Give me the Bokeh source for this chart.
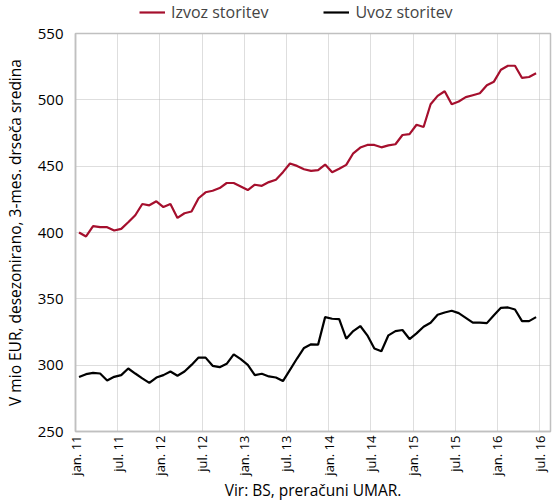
from bokeh.plotting import figure
from bokeh.layouts import column
from bokeh.models import Legend, LegendItem, FixedTicker, Range1d
from bokeh.embed import file_html
from bokeh.resources import INLINE

# monthly data, jan.2011 .. jun.2016 (index 0 = jan.11)
izvoz = [400.0, 397, 404.8, 404, 404, 401.5, 402.7, 407.7, 413, 421.5, 420.5, 423.5,
         419.2, 421.5, 411, 414.5, 415.8, 425.8, 430.3, 431.5, 433.5, 437.3, 437.3, 434.7,
         432, 436, 435.2, 438, 439.8, 445.5, 452, 450.2, 447.7, 446.5, 447, 451.2,
         445.5, 448, 451, 459.7, 464, 466, 466, 464.2, 465.7, 466.5, 473.5, 474.2,
         481.2, 479.5, 496.7, 503, 506.5, 496.7, 498.7, 502, 503.5, 505, 511, 513.7,
         522.7, 525.7, 525.7, 516.5, 517.2, 520]
uvoz = [291, 293.2, 294.2, 293.7, 288.5, 291.2, 292.5, 297.5, 293.7, 290, 286.7, 290.7,
        292.5, 295.2, 292, 295.2, 300.2, 305.7, 305.7, 299.5, 298.5, 301, 308.2, 304.5,
        300.2, 292.5, 293.5, 291.5, 290.7, 288, 296.5, 305, 313, 315.7, 315.5, 336.2,
        335, 334.7, 320, 325.7, 329.5, 322.5, 312.5, 310.5, 322.5, 325.7, 326.5, 319.7,
        324, 329, 332, 338, 339.7, 341, 339.2, 335.7, 332, 332, 331.7, 337.7,
        343.2, 343.5, 342, 333.2, 333.2, 336.2]
tick_labels = ["jan. 11", "jul. 11", "jan. 12", "jul. 12", "jan. 13", "jul. 13",
               "jan. 14", "jul. 14", "jan. 15", "jul. 15", "jan. 16", "jul. 16"]
y_ticks = [250, 300, 350, 400, 450, 500, 550]
series_names = ["Izvoz storitev", "Uvoz storitev"]

x = list(range(len(izvoz)))
x_ticks = [6 * k - 0.5 for k in range(len(tick_labels))]

FONT = "Open Sans"
RED = "#a50f2d"
LW = 2.2

# ---- main chart ----
p = figure(output_backend="svg", toolbar_location=None,
           width=559, height=480,
           min_border_left=75, min_border_right=9, min_border_top=10, min_border_bottom=70,
           x_range=Range1d(-0.5, 67.05), y_range=Range1d(250, 550))
p.background_fill_color = "white"
p.border_fill_color = "white"
p.outline_line_color = "#c0c0c0"
p.outline_line_width = 1.5

p.line(x, izvoz, line_color=RED, line_width=LW)
p.line(x, uvoz, line_color="black", line_width=LW)

p.xaxis.ticker = FixedTicker(ticks=x_ticks)
p.xaxis.major_label_overrides = {t: l for t, l in zip(x_ticks, tick_labels)}
p.xaxis.major_label_orientation = 1.5708
p.yaxis.ticker = FixedTicker(ticks=y_ticks)

for ax in (p.xaxis[0], p.yaxis[0]):
    ax.axis_line_color = "#c0c0c0"
    ax.axis_line_width = 1.5
    ax.major_tick_line_color = None
    ax.minor_tick_line_color = None
    ax.major_tick_out = 0
    ax.major_tick_in = 0
    ax.major_label_text_font = FONT
    ax.major_label_text_color = "black"
    ax.axis_label_text_font = FONT
    ax.axis_label_text_font_size = "15.5px"
    ax.axis_label_text_font_style = "normal"
    ax.axis_label_text_color = "black"

p.xaxis.major_label_text_font_size = "13px"
p.yaxis.major_label_text_font_size = "15px"
p.yaxis.major_label_standoff = 12
p.xaxis.major_label_standoff = 4
p.yaxis.axis_label = "V mio EUR, desezonirano, 3-mes. drseča sredina"
p.yaxis.axis_label_standoff = 9
p.xaxis.axis_label = "Vir: BS, preračuni UMAR."
p.xaxis.axis_label_standoff = 0

p.xgrid.grid_line_color = "#bdbdbd"
p.xgrid.grid_line_dash = "1 1"
p.ygrid.grid_line_color = "#bdbdbd"
p.ygrid.grid_line_dash = "1 1"

# ---- legend strip (same series, drawn outside its visible range) ----
lg = figure(output_backend="svg", toolbar_location=None,
            width=559, height=23,
            min_border_left=0, min_border_right=0, min_border_top=0, min_border_bottom=0,
            x_range=Range1d(1000, 1001), y_range=Range1d(0, 1))
lg.axis.visible = False
lg.grid.visible = False
lg.outline_line_color = None
lg.background_fill_color = "white"
lg.border_fill_color = "white"
lr1 = lg.line(x, izvoz, line_color=RED, line_width=LW)
lr2 = lg.line(x, uvoz, line_color="black", line_width=LW)

legend = Legend(items=[LegendItem(label=series_names[0], renderers=[lr1]),
                       LegendItem(label=series_names[1], renderers=[lr2])],
                orientation="horizontal", location=(64, 0),
                border_line_color=None, background_fill_alpha=0,
                label_text_font=FONT, label_text_font_size="16px",
                glyph_width=26, glyph_height=14, label_height=14,
                spacing=55, padding=2, margin=0, label_standoff=6)
lg.add_layout(legend)

layout = column(lg, p, spacing=0)
open("out.html", "w").write(file_html(layout, INLINE))
